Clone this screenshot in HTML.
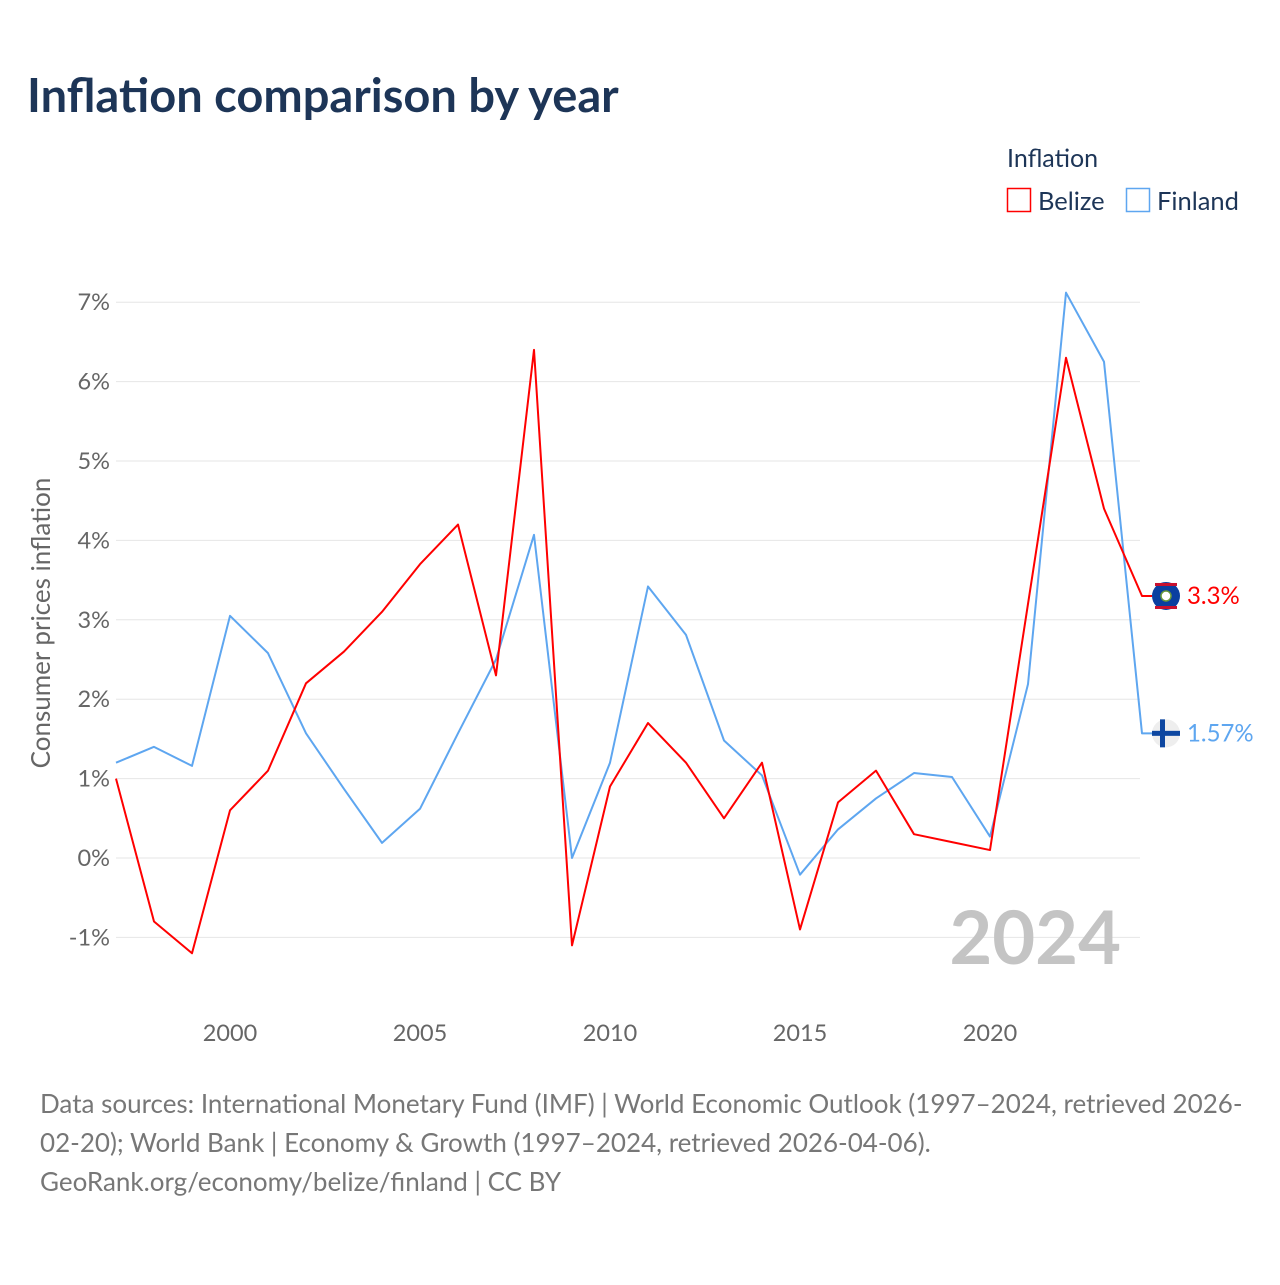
<!DOCTYPE html>
<html><head><meta charset="utf-8"><style>
body{margin:0;background:#fff;font-family:"Liberation Sans",sans-serif;}
</style></head><body>
<svg id="c" width="1280" height="1280" xmlns="http://www.w3.org/2000/svg" font-family="Lato, 'Liberation Sans', sans-serif">
<rect width="1280" height="1280" fill="#fff"/>
<text x="27" y="112" font-size="47" font-weight="bold" fill="#1d3557">Inflation comparison by year</text>
<text x="1007" y="167" font-size="25" fill="#1d3557">Inflation</text>
<g><rect x="1007.5" y="188.5" width="23" height="23" fill="none" stroke="#f00" stroke-width="1.5"/><text x="1038" y="210" font-size="25.5" fill="#1d3557">Belize</text></g>
<g><rect x="1126.5" y="188.5" width="23" height="23" fill="none" stroke="#5ea6f0" stroke-width="1.5"/><text x="1157" y="210" font-size="25.5" fill="#1d3557">Finland</text></g>
<g id="grid"></g><g id="yt"></g><g id="xt"></g>
<text x="1121" y="964" text-anchor="end" font-size="74" font-weight="bold" fill="#c4c4c4">2024</text>
<text transform="translate(50,623) rotate(-90)" text-anchor="middle" font-size="26" fill="#666">Consumer prices inflation</text>
<g id="series"></g>
<g font-size="26" fill="#777">
<text x="40" y="1113">Data sources: International Monetary Fund (IMF) | World Economic Outlook (1997–2024, retrieved 2026-</text>
<text x="40" y="1152">02-20); World Bank | Economy &amp; Growth (1997–2024, retrieved 2026-04-06).</text>
<text x="40" y="1191">GeoRank.org/economy/belize/finland | CC BY</text>
</g>
</svg>
<script>
const years=[1997,1998,1999,2000,2001,2002,2003,2004,2005,2006,2007,2008,2009,2010,2011,2012,2013,2014,2015,2016,2017,2018,2019,2020,2021,2022,2023,2024];
const belize=[1.0,-0.8,-1.2,0.6,1.1,2.2,2.6,3.1,3.7,4.2,2.3,6.4,-1.1,0.9,1.7,1.2,0.5,1.2,-0.9,0.7,1.1,0.3,0.2,0.1,3.2,6.3,4.4,3.3];
const finland=[1.2,1.4,1.16,3.05,2.58,1.57,0.87,0.19,0.62,1.57,2.5,4.07,0.0,1.2,3.42,2.81,1.48,1.04,-0.21,0.36,0.75,1.07,1.02,0.27,2.19,7.12,6.25,1.57];
const yTicks=[-1,0,1,2,3,4,5,6,7];
const xTicks=[2000,2005,2010,2015,2020];
const NS="http://www.w3.org/2000/svg";
const X=v=>116+(v-1997)*38;
const Y=v=>858-v*79.4;
function mk(t,a,p){const e=document.createElementNS(NS,t);for(const k in a)e.setAttribute(k,a[k]);p.appendChild(e);return e;}
const grid=document.getElementById('grid'),yt=document.getElementById('yt'),xt=document.getElementById('xt'),ser=document.getElementById('series');
yTicks.forEach(v=>{
 const l=mk('line',{x1:116,x2:1140,y1:Y(v),y2:Y(v),stroke:'#e6e6e6','stroke-width':1},grid);
 
 
 const t=mk('text',{x:110,y:Y(v)+8,'text-anchor':'end','font-size':23.5,fill:'#666'},yt);
 t.textContent=v+'%';
 
 
});
xTicks.forEach(v=>{
 const t=mk('text',{x:X(v),y:1041,'text-anchor':'middle','font-size':23.5,fill:'#666'},xt);
 t.textContent=v;
 
 
});
function series(data,color,name,label){
 const pts=data.map((v,i)=>X(years[i])+','+Y(v)).join(' ');
 const last=data[data.length-1],lx=X(years[years.length-1]),ly=Y(last);
 const p=mk('polyline',{points:pts+' '+(lx+10)+','+ly,fill:'none',stroke:color,'stroke-width':2,'stroke-linejoin':'round'},ser);
 
 
 const g=mk('g',{},ser);
 
 
 if(name==='belize'){
  mk('circle',{cx:lx+24,cy:ly,r:14,fill:'#0a3fa0'},g);
  mk('rect',{x:lx+13,y:ly-13,width:22,height:3,fill:'#c8102e'},g);
  mk('rect',{x:lx+13,y:ly+10,width:22,height:3,fill:'#c8102e'},g);
  mk('circle',{cx:lx+24,cy:ly,r:5,fill:'#fff',stroke:'#6a9a3a','stroke-width':1.5},g);
 }else{
  mk('circle',{cx:lx+24,cy:ly,r:14,fill:'#eee'},g);
  mk('rect',{x:lx+10,y:ly-2.5,width:28,height:5,fill:'#0d47a1'},g);
  mk('rect',{x:lx+18,y:ly-14,width:5,height:28,fill:'#0d47a1'},g);
 }
 const t=mk('text',{x:lx+45,y:ly+8,'font-size':24,fill:color},ser);
 t.textContent=label;
 
 
}
series(finland,'#5ea6f0','finland','1.57%');
series(belize,'#ff0000','belize','3.3%');
</script>
</body></html>
